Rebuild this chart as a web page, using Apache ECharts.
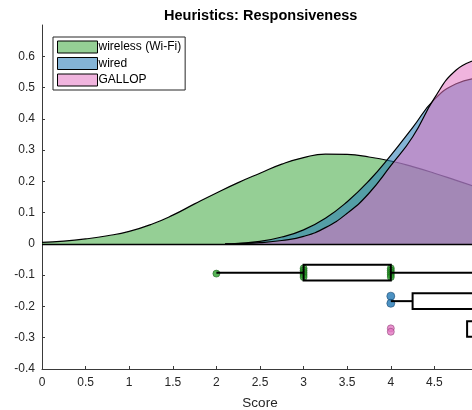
<!DOCTYPE html>
<html>
<head>
<meta charset="utf-8">
<script src="https://cdn.jsdelivr.net/npm/echarts@6/dist/echarts.min.js"></script>
<style>html,body{margin:0;padding:0;background:#fff;}#c{width:472px;height:410px;}</style>
</head>
<body>
<div id="c"></div>
<script>
// ---- data ----
const seriesNames = ['wireless (Wi-Fi)', 'wired', 'GALLOP'];
const wirelessX = [0,0.25,0.5,0.75,1,1.25,1.5,1.75,2,2.25,2.5,2.75,3,3.25,3.5,3.75,4,4.25,4.5,4.75,5];
const wirelessY = [0.005,0.009,0.016,0.026,0.04,0.062,0.092,0.128,0.163,0.196,0.226,0.255,0.276,0.287,0.286,0.278,0.265,0.247,0.226,0.203,0.18];
const wiredX = [2.1,2.25,2.5,2.75,3,3.25,3.5,3.75,4,4.25,4.5,4.75,5];
const wiredY = [0,0.002,0.008,0.022,0.045,0.082,0.135,0.202,0.283,0.372,0.462,0.512,0.53];
const gallopX = [2.1,2.25,2.5,2.75,3,3.25,3.5,3.75,4,4.25,4.5,4.75,5];
const gallopY = [0,0.001,0.004,0.011,0.024,0.052,0.098,0.162,0.25,0.342,0.466,0.556,0.59];
// box plots: [low whisker, q1, q3, high whisker, row position]
const boxLow  = [2, 4, 4.875];
const boxQ1   = [3, 4.25, 4.875];
const boxQ3   = [4, 5, 5];
const boxHigh = [5, 5, 5];
const boxRow  = [-0.092, -0.183, -0.272];
// raw points
const wirelessPtsX = [2,3,3,3,3,3,4,4,4,4,4];
const wirelessPtsY = [-0.095,-0.078,-0.085,-0.092,-0.099,-0.106,-0.078,-0.085,-0.092,-0.099,-0.106];
const wiredPtsX = [4,4];
const wiredPtsY = [-0.167,-0.19];
const gallopPtsX = [4,4];
const gallopPtsY = [-0.27,-0.281];
const xTicks = {min: 0, max: 5, interval: 0.5};
const yTicks = {min: -0.4, max: 0.7, interval: 0.1};

// ---- styles ----
const fills = ['rgba(44,160,44,0.5)', 'rgba(31,119,180,0.55)', 'rgba(227,119,194,0.55)'];
const dotColors = ['#2ca02c', '#1f77b4', '#e377c2'];
const axisColor = '#3a3a3a';
const font = 'Liberation Sans, Arial, Helvetica, sans-serif';
const boxHalf = 0.025;

const zip = (xs, ys) => xs.map((x, i) => [x, ys[i]]);
const boxData = boxLow.map((l, i) => [l, boxQ1[i], boxQ3[i], boxHigh[i], boxRow[i]]);

function densitySeries(name, xs, ys, i) {
  return {
    name: name, type: 'line', data: zip(xs, ys), smooth: 0.5, symbol: 'none',
    lineStyle: {color: '#000', width: 1.2},
    itemStyle: {color: fills[i]},
    areaStyle: {color: fills[i], opacity: 1, origin: 'auto'},
    z: 2 + i
  };
}

const chart = echarts.init(document.getElementById('c'), null, {renderer: 'canvas'});
chart.setOption({
  animation: false,
  backgroundColor: '#fff',
  title: {
    text: 'Heuristics: Responsiveness', left: 159, top: 3,
    textStyle: {fontFamily: font, fontSize: 14.5, fontWeight: 'bold', color: '#000'}
  },
  legend: {
    left: 53, top: 37, orient: 'vertical',
    icon: 'rect', itemWidth: 40, itemHeight: 12, itemGap: 2.5,
    padding: [3, 4, 3, 4],
    backgroundColor: '#fff', borderColor: '#262626', borderWidth: 1,
    textStyle: {fontFamily: font, fontSize: 12, color: '#000', lineHeight: 14, padding: [0, 0, 0, -4]},
    data: seriesNames.map((n, i) => ({name: n, itemStyle: {color: fills[i], borderColor: '#000', borderWidth: 1}}))
  },
  grid: {left: 42, top: 25, width: 436, height: 344, containLabel: false, outerBoundsMode: 'none'},
  xAxis: {
    type: 'value', min: xTicks.min, max: xTicks.max, interval: xTicks.interval,
    name: 'Score', nameLocation: 'middle', nameGap: 27,
    nameTextStyle: {fontFamily: font, fontSize: 13.5, color: '#262626'},
    axisLine: {onZero: false, lineStyle: {color: axisColor, width: 1}},
    axisTick: {inside: true, length: 3, lineStyle: {color: axisColor}},
    axisLabel: {fontFamily: font, fontSize: 12, color: '#262626', margin: 8},
    splitLine: {show: false}
  },
  yAxis: {
    type: 'value', min: yTicks.min, max: yTicks.max, interval: yTicks.interval,
    axisLine: {show: true, onZero: false, lineStyle: {color: axisColor, width: 1}},
    axisTick: {show: true, inside: true, length: 3, lineStyle: {color: axisColor}},
    axisLabel: {fontFamily: font, fontSize: 12, color: '#262626', margin: 7, showMaxLabel: false,
      formatter: v => (Math.round(v * 10) / 10).toString()},
    splitLine: {show: false}
  },
  series: [
    Object.assign(densitySeries(seriesNames[0], wirelessX, wirelessY, 0), {
      markLine: {silent: true, symbol: 'none', label: {show: false},
        lineStyle: {color: '#000', width: 1.3, type: 'solid'}, data: [{yAxis: 0}]}
    }),
    densitySeries(seriesNames[1], wiredX, wiredY, 1),
    densitySeries(seriesNames[2], gallopX, gallopY, 2),
    {
      type: 'custom', name: 'boxfill', data: boxData, z: 6, silent: true,
      renderItem: function (params, api) {
        const y = api.value(4);
        const a = api.coord([api.value(1), y + boxHalf]);
        const b = api.coord([api.value(2), y - boxHalf]);
        return {type: 'rect', shape: {x: a[0], y: a[1], width: b[0] - a[0], height: b[1] - a[1]},
          style: {fill: '#fff', stroke: null}};
      }
    },
    {type: 'scatter', name: 'pts0', data: zip(wirelessPtsX, wirelessPtsY), symbolSize: 7, z: 7, silent: true,
      itemStyle: {color: dotColors[0], borderColor: '#1a5e1a', borderWidth: 0.7}},
    {type: 'scatter', name: 'pts1', data: zip(wiredPtsX, wiredPtsY), symbolSize: 8, z: 7, silent: true,
      itemStyle: {color: dotColors[1], borderColor: '#17456b', borderWidth: 0.7}},
    {type: 'scatter', name: 'pts2', data: zip(gallopPtsX, gallopPtsY), symbolSize: 7, z: 7, silent: true,
      itemStyle: {color: dotColors[2], borderColor: '#8a3d73', borderWidth: 0.7}},
    {
      type: 'custom', name: 'boxlines', data: boxData, z: 8, silent: true,
      renderItem: function (params, api) {
        const y = api.value(4);
        const lo = api.coord([api.value(0), y]);
        const q1 = api.coord([api.value(1), y]);
        const q3 = api.coord([api.value(2), y]);
        const hi = api.coord([api.value(3), y]);
        const a = api.coord([api.value(1), y + boxHalf]);
        const b = api.coord([api.value(2), y - boxHalf]);
        const st = {stroke: '#000', lineWidth: 2, fill: null};
        return {type: 'group', children: [
          {type: 'line', shape: {x1: lo[0], y1: lo[1], x2: q1[0], y2: q1[1]}, style: st},
          {type: 'line', shape: {x1: q3[0], y1: q3[1], x2: hi[0], y2: hi[1]}, style: st},
          {type: 'rect', shape: {x: a[0], y: a[1], width: b[0] - a[0], height: b[1] - a[1]}, style: st}
        ]};
      }
    }
  ]
});
</script>
</body>
</html>
